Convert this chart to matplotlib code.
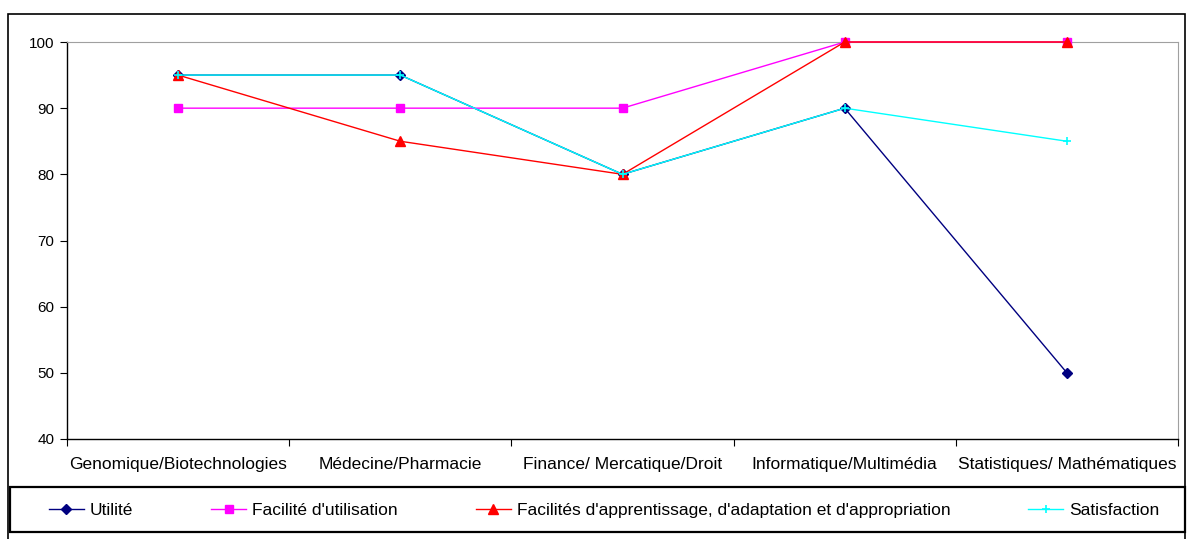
import matplotlib.pyplot as plt
from matplotlib.patches import Rectangle

plt.rcParams['font.family'] = ['Liberation Sans', 'DejaVu Sans']

# Data
categories = ['Genomique/Biotechnologies', 'Médecine/Pharmacie', 'Finance/ Mercatique/Droit',
              'Informatique/Multimédia', 'Statistiques/ Mathématiques']
utilite = [95, 95, 80, 90, 50]
facilite = [90, 90, 90, 100, 100]
apprentissage = [95, 85, 80, 100, 100]
satisfaction = [95, 95, 80, 90, 85]
yticks = [40, 50, 60, 70, 80, 90, 100]

W, H = 1189, 539
fig = plt.figure(figsize=(W / 100, H / 100), dpi=100)

# outer chart frame and legend frame (Excel style)
fig.patches.append(Rectangle((8 / W, -0.02), 1177 / W, (H - 14) / H + 0.02, transform=fig.transFigure,
                             fill=False, edgecolor='black', linewidth=1.2))
fig.patches.append(Rectangle((10 / W, (H - 532) / H), 1175 / W, 45 / H, transform=fig.transFigure,
                             fill=False, edgecolor='black', linewidth=1.6))

ax = fig.add_axes([67 / W, (H - 439) / H, (1178 - 67) / W, (439 - 42) / H])
x = list(range(len(categories)))

ax.plot(x, utilite, color='#000080', marker='D', markersize=5, linewidth=1, label='Utilité',
        clip_on=False, zorder=3)
ax.plot(x, facilite, color='#FF00FF', marker='s', markersize=6, linewidth=1,
        label="Facilité d'utilisation", clip_on=False, zorder=3)
ax.plot(x, apprentissage, color='#FF0000', marker='^', markersize=7, linewidth=1,
        label="Facilités d'apprentissage, d'adaptation et d'appropriation", clip_on=False, zorder=3)
ax.plot(x, satisfaction, color='#00FFFF', marker='+', markersize=6, markeredgewidth=1.2, linewidth=1,
        label='Satisfaction', clip_on=False, zorder=3)

ax.set_xlim(-0.5, len(categories) - 0.5)
ax.set_ylim(40, 100)
ax.set_yticks(yticks)
ax.set_yticklabels([str(v) for v in yticks], fontsize=11)
ax.set_xticks([i - 0.5 for i in range(len(categories) + 1)])
ax.set_xticklabels([])
ax.set_xticks(x, minor=True)
ax.set_xticklabels(categories, minor=True, fontsize=12.5)
ax.tick_params(axis='x', which='minor', length=0, pad=13)
ax.tick_params(axis='x', which='major', direction='out', length=5)
ax.tick_params(axis='y', direction='out', length=5, pad=4)

ax.spines['top'].set_color('#A0A0A0')
ax.spines['right'].set_color('#A0A0A0')
ax.spines['left'].set_linewidth(1)
ax.spines['bottom'].set_linewidth(1)

leg = fig.legend(loc='center left', ncol=4, bbox_to_anchor=(49 / W, (H - 510) / H),
                 fontsize=12.5, frameon=False, handlelength=2.0, handletextpad=0.35,
                 columnspacing=4.5, borderpad=0, borderaxespad=0)

plt.savefig('out.png', dpi=100)
